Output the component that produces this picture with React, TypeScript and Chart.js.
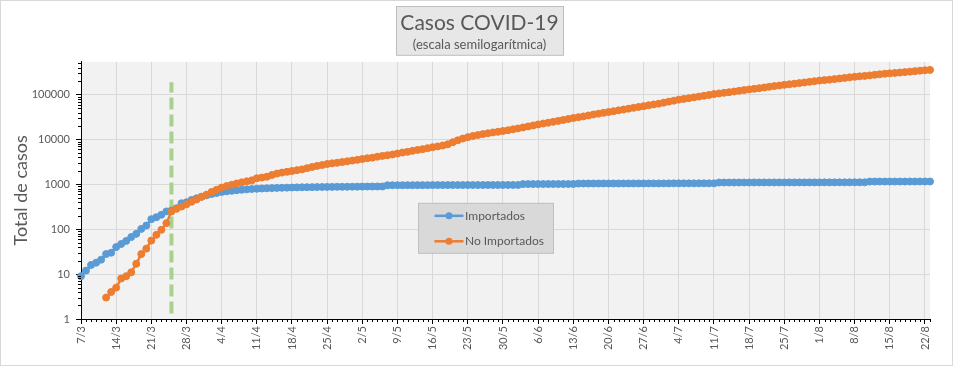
import { useEffect, useRef } from 'react';
import { Chart, registerables } from 'chart.js';

Chart.register(...registerables);

const FONT = 'Lato, "Liberation Sans", sans-serif';
const TITLE_SIZE = 21;

// Weekly tick labels (every 7 days starting 7/3/2020)
const weekLabels = [
  '7/3', '14/3', '21/3', '28/3', '4/4', '11/4', '18/4', '25/4', '2/5', '9/5', '16/5', '23/5', '30/5',
  '6/6', '13/6', '20/6', '27/6', '4/7', '11/7', '18/7', '25/7', '1/8', '8/8', '15/8', '22/8',
];

// Daily values, index 0 = 7/3, index 169 = 23/8
const importados = [
  9, 12, 16, 18, 21, 28, 30, // 7/3
  40, 47, 55, 67, 79, 102, 121, // 14/3
  168, 186, 210, 250, 262, 295, 380, // 21/3
  400, 450, 490, 530, 570, 610, 645, // 28/3
  680, 700, 720, 740, 758, 775, 790, // 4/4
  800, 810, 818, 826, 833, 840, 846, // 11/4
  852, 858, 862, 866, 868, 872, 875, // 18/4
  878, 880, 882, 884, 886, 888, 890, // 25/4
  893, 895, 897, 899, 901, 955, 958, // 2/5
  960, 960, 961, 962, 962, 963, 963, // 9/5
  964, 964, 965, 965, 965, 966, 966, // 16/5
  967, 967, 968, 968, 969, 969, 970, // 23/5
  970, 971, 971, 972, 1015, 1016, 1017, // 30/5
  1018, 1018, 1019, 1019, 1020, 1020, 1021, // 6/6
  1021, 1045, 1046, 1046, 1047, 1047, 1048, // 13/6
  1048, 1049, 1049, 1050, 1050, 1050, 1051, // 20/6
  1051, 1052, 1052, 1052, 1053, 1053, 1054, // 27/6
  1054, 1054, 1055, 1055, 1056, 1056, 1056, // 4/7
  1057, 1100, 1101, 1101, 1102, 1102, 1103, // 11/7
  1103, 1104, 1104, 1105, 1105, 1106, 1106, // 18/7
  1106, 1107, 1107, 1108, 1108, 1108, 1109, // 25/7
  1109, 1110, 1110, 1110, 1111, 1111, 1112, // 1/8
  1112, 1112, 1113, 1155, 1156, 1157, 1157, // 8/8
  1158, 1158, 1159, 1159, 1160, 1160, 1161, // 15/8
  1161, 1162, // 22/8
];

const noImportados = [
  null, null, null, null, null, 3, 4, // 7/3
  5, 8, 9, 11, 17, 28, 37, // 14/3
  56, 75, 97, 137, 250, 285, 320, // 21/3
  360, 410, 460, 530, 590, 680, 760, // 28/3
  850, 920, 980, 1050, 1110, 1170, 1230, // 4/4
  1370, 1420, 1480, 1620, 1740, 1830, 1910, // 11/4
  1990, 2080, 2160, 2300, 2440, 2580, 2700, // 18/4
  2850, 2950, 3040, 3150, 3270, 3400, 3520, // 25/4
  3680, 3830, 3950, 4140, 4320, 4460, 4640, // 2/5
  4870, 5130, 5310, 5590, 5860, 6100, 6420, // 9/5
  6750, 7030, 7350, 7800, 8700, 9600, 10500, // 16/5
  11300, 12000, 12600, 13200, 13800, 14400, 14900, // 23/5
  15500, 16100, 16900, 17700, 18600, 19600, 20600, // 30/5
  21700, 22700, 23700, 24800, 26000, 27300, 28700, // 6/6
  30100, 31500, 32800, 34400, 36100, 37700, 39300, // 13/6
  41000, 42800, 44700, 46600, 48700, 50900, 53200, // 20/6
  55500, 58000, 60500, 63000, 66400, 69900, 73400, // 27/6
  77500, 80500, 83500, 87000, 90500, 94500, 98500, // 4/7
  103000, 106500, 110000, 113500, 117500, 122000, 126500, // 11/7
  131000, 135000, 139500, 144500, 150000, 155000, 160000, // 18/7
  165500, 170500, 175500, 181000, 187000, 193000, 199000, // 25/7
  206000, 211000, 216000, 222000, 229000, 236000, 243000, // 1/8
  250000, 256000, 262000, 269000, 277000, 285000, 292000, // 8/8
  299000, 305000, 311000, 318000, 326000, 334000, 342000, // 15/8
  349000, 356000, // 22/8
];

const yTicks = [1, 10, 100, 1000, 10000, 100000];
const Y_MAX = 540000;
const markerDay = 18; // 25/3
const markerRange = [1.33, 190000];

const toPoints = (arr: (number | null)[]) => arr.map((v, i) => ({ x: i, y: v }));

const decor = {
  id: 'decor',
  beforeDraw(chart: any) {
    const { ctx, chartArea: a, width, height } = chart;
    ctx.save();
    ctx.fillStyle = '#ffffff';
    ctx.fillRect(0, 0, width, height);
    ctx.strokeStyle = '#d9d9d9';
    ctx.lineWidth = 1;
    ctx.strokeRect(0.5, 0.5, width - 1, height - 1);
    ctx.fillStyle = '#f2f2f2';
    ctx.fillRect(a.left, a.top, a.right - a.left, a.bottom - a.top);
    // title box
    const tb = chart.titleBlock;
    const cx = (tb.left + tb.right) / 2;
    ctx.font = `${TITLE_SIZE}px ${FONT}`;
    const tw = ctx.measureText('Casos COVID-19').width;
    const bw = Math.round(tw + 9);
    const bx = Math.round(cx - bw / 2) + 0.5;
    const by = 6.5;
    const bh = a.top - 7 - 6;
    ctx.fillStyle = '#e7e7e7';
    ctx.fillRect(bx, by, bw, bh);
    ctx.strokeStyle = '#bfbfbf';
    ctx.strokeRect(bx, by, bw, bh);
    ctx.restore();
  },
  afterDraw(chart: any) {
    const { ctx, chartArea: a, scales } = chart;
    const xs = scales.x;
    const ys = scales.y;
    ctx.save();
    ctx.strokeStyle = '#000';
    ctx.lineWidth = 1;
    ctx.beginPath();
    // minor y ticks
    for (let dec = 1; dec < Y_MAX; dec *= 10) {
      for (let m = 2; m <= 9; m++) {
        const v = dec * m;
        if (v > Y_MAX) break;
        const py = Math.round(ys.getPixelForValue(v)) + 0.5;
        ctx.moveTo(a.left - 3, py);
        ctx.lineTo(a.left, py);
      }
    }
    // minor x ticks (daily)
    for (let i = 0; i < importados.length; i++) {
      if (i % 7 === 0) continue;
      const px = Math.round(xs.getPixelForValue(i)) + 0.5;
      ctx.moveTo(px, a.bottom);
      ctx.lineTo(px, a.bottom + 3);
    }
    ctx.stroke();

    // legend
    const lx = a.left + 337.5;
    const ly = a.top + 141.5;
    const lw = 135;
    const lh = 50;
    ctx.fillStyle = '#d9d9d9';
    ctx.fillRect(lx, ly, lw, lh);
    ctx.strokeStyle = '#bfbfbf';
    ctx.strokeRect(lx, ly, lw, lh);
    const items = [
      { label: 'Importados', color: '#5b9bd5', dy: 12.5 },
      { label: 'No Importados', color: '#ed7d31', dy: 38 },
    ];
    ctx.font = `12px ${FONT}`;
    ctx.textBaseline = 'middle';
    ctx.textAlign = 'left';
    for (const it of items) {
      const y = ly + it.dy;
      ctx.strokeStyle = it.color;
      ctx.lineWidth = 2.5;
      ctx.beginPath();
      ctx.moveTo(lx + 16, y);
      ctx.lineTo(lx + 45, y);
      ctx.stroke();
      ctx.fillStyle = it.color;
      ctx.beginPath();
      ctx.arc(lx + 30.5, y, 3.5, 0, Math.PI * 2);
      ctx.fill();
      ctx.fillStyle = '#595959';
      ctx.fillText(it.label, lx + 46.5, y);
    }
    ctx.restore();
  },
};

export default function App() {
  const ref = useRef<HTMLCanvasElement>(null);
  useEffect(() => {
    document.body.style.margin = '0';
    const chart = new Chart(ref.current as HTMLCanvasElement, {
      type: 'line',
      data: {
        datasets: [
          {
            label: 'No Importados',
            data: toPoints(noImportados),
            borderColor: '#ed7d31',
            backgroundColor: '#ed7d31',
            borderWidth: 2.5,
            pointRadius: 3.5,
            pointBorderWidth: 1,
            pointBorderColor: '#ed7d31',
            clip: false,
            order: 0,
          },
          {
            label: 'Importados',
            data: toPoints(importados),
            borderColor: '#5b9bd5',
            backgroundColor: '#5b9bd5',
            borderWidth: 2.5,
            pointRadius: 3.5,
            pointBorderWidth: 1,
            pointBorderColor: '#5b9bd5',
            clip: false,
            order: 1,
          },
          {
            label: 'marker',
            data: [
              { x: markerDay, y: markerRange[0] },
              { x: markerDay, y: markerRange[1] },
            ],
            borderColor: '#a9d18e',
            borderWidth: 4,
            borderDash: [12, 5],
            pointRadius: 0,
            order: 2,
          },
        ],
      },
      options: {
        responsive: false,
        animation: false,
        events: [],
        layout: { padding: { left: 29, right: 23, top: 0, bottom: 0 } },
        plugins: {
          legend: { display: false },
          tooltip: { enabled: false },
          title: {
            display: true,
            text: 'Casos COVID-19',
            color: '#595959',
            font: { family: FONT, size: TITLE_SIZE, weight: 'normal' },
            padding: { top: 11, bottom: 0 },
          },
          subtitle: {
            display: true,
            text: '(escala semilogarítmica)',
            color: '#595959',
            font: { family: FONT, size: 13, weight: 'normal' },
            padding: { top: 1, bottom: 9 },
          },
        },
        scales: {
          x: {
            type: 'linear',
            min: 0,
            max: importados.length - 1,
            afterBuildTicks: (scale: any) => {
              scale.ticks = weekLabels.map((_, i) => ({ value: i * 7 }));
            },
            afterFit: (scale: any) => {
              scale.height = 47;
            },
            ticks: {
              autoSkip: false,
              minRotation: 90,
              maxRotation: 90,
              padding: 2,
              color: '#595959',
              font: { family: FONT, size: 11 },
              callback: (v: any) => weekLabels[Math.round(Number(v) / 7)] ?? '',
            },
            grid: { color: '#d9d9d9', tickColor: '#000', tickLength: 5 },
            border: { display: true, color: '#000', width: 1 },
          },
          y: {
            type: 'logarithmic',
            min: 1,
            max: Y_MAX,
            afterBuildTicks: (scale: any) => {
              scale.ticks = yTicks.map((v) => ({ value: v }));
            },
            afterFit: (scale: any) => {
              scale.width = 52;
            },
            ticks: {
              autoSkip: false,
              padding: 6,
              color: '#595959',
              font: { family: FONT, size: 11 },
              callback: (v: any) => String(v),
            },
            grid: { color: '#d9d9d9', tickColor: '#000', tickLength: 5 },
            border: { display: true, color: '#000', width: 1 },
            title: {
              display: true,
              text: 'Total de casos',
              color: '#595959',
              font: { family: FONT, size: 18 },
              padding: { top: -19, bottom: 0 },
            },
          },
        },
      },
      plugins: [decor],
    } as any);
    return () => chart.destroy();
  }, []);
  return (
    <div style={{ width: 953, height: 366 }}>
      <canvas ref={ref} width={953} height={366} style={{ display: 'block' }} />
    </div>
  );
}
